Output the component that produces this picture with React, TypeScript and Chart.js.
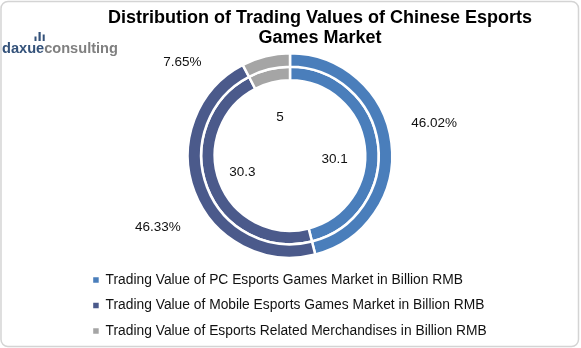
import React, { useEffect, useRef } from "react";
import { Chart, registerables } from "chart.js";

Chart.register(...registerables);

const titleLines = ["Distribution of Trading Values of Chinese Esports", "Games Market"];
const categories = [
  "Trading Value of PC Esports Games Market in Billion RMB",
  "Trading Value of Mobile Esports Games Market in Billion RMB",
  "Trading Value of Esports Related Merchandises in Billion RMB",
];
const values = [30.1, 30.3, 5];
const colors = ["#4A7EBB", "#4B5A8B", "#A5A5A5"];

// label nudges (px) relative to radial anchors
const pctNudge = [[-2, -14], [5.5, 19], [-72.7, 50.3]];
const valNudge = [[0, 9.6], [-5.5, 0.4], [0.7, 5.7]];

const FONT = "'Liberation Sans', Arial, sans-serif";

const decorPlugin = {
  id: "decor",
  beforeDraw(chart: any) {
    const ctx = chart.ctx;
    ctx.save();
    ctx.fillStyle = "#ffffff";
    ctx.fillRect(0, 0, chart.width, chart.height);
    ctx.strokeStyle = "#d4d4d4";
    ctx.lineWidth = 1.5;
    ctx.beginPath();
    (ctx as any).roundRect(1, 1.5, chart.width - 3.5, chart.height - 3, 7);
    ctx.stroke();
    ctx.restore();
  },
  afterDraw(chart: any) {
    const ctx = chart.ctx;
    ctx.save();
    // title
    ctx.fillStyle = "#000000";
    ctx.font = `bold 18px ${FONT}`;
    ctx.textAlign = "center";
    ctx.textBaseline = "alphabetic";
    ctx.fillText(titleLines[0], 320, 22.7);
    ctx.fillText(titleLines[1], 320, 43.3);
    // logo
    ctx.textAlign = "left";
    ctx.font = `bold 14.6px ${FONT}`;
    ctx.fillStyle = "#34527A";
    ctx.fillText("daxue", 2, 53);
    const w = ctx.measureText("daxue").width;
    ctx.fillStyle = "#808080";
    ctx.fillText("consulting", 2 + w, 53);
    ctx.fillStyle = "#34527A";
    ctx.fillRect(34.5, 36.5, 2, 4.5);
    ctx.fillRect(38.5, 32, 2.2, 9);
    ctx.fillRect(42.7, 34.5, 2, 6.5);
    ctx.restore();
  },
  afterDatasetsDraw(chart: any) {
    const ctx = chart.ctx;
    const total = values.reduce((a, b) => a + b, 0);
    ctx.save();
    ctx.fillStyle = "#111111";
    ctx.font = `13.5px ${FONT}`;
    ctx.textAlign = "center";
    ctx.textBaseline = "middle";
    const outer = chart.getDatasetMeta(0).data;
    outer.forEach((arc: any, i: number) => {
      const p = arc.getProps(["x", "y", "startAngle", "endAngle", "outerRadius"], true);
      const mid = (p.startAngle + p.endAngle) / 2;
      const r = p.outerRadius + 45;
      const lx = p.x + Math.cos(mid) * r + pctNudge[i][0];
      const ly = p.y + Math.sin(mid) * r + pctNudge[i][1];
      ctx.fillText(((values[i] / total) * 100).toFixed(2) + "%", lx, ly);
    });
    const inner = chart.getDatasetMeta(1).data;
    inner.forEach((arc: any, i: number) => {
      const p = arc.getProps(["x", "y", "startAngle", "endAngle"], true);
      const mid = (p.startAngle + p.endAngle) / 2;
      const r = 45;
      const lx = p.x + Math.cos(mid) * r + valNudge[i][0];
      const ly = p.y + Math.sin(mid) * r + valNudge[i][1];
      ctx.fillText(String(values[i]), lx, ly);
    });
    ctx.restore();
  },
};

export default function App() {
  const ref = useRef<HTMLCanvasElement | null>(null);
  useEffect(() => {
    if (!ref.current) return;
    const chart = new Chart(ref.current, {
      type: "doughnut",
      data: {
        labels: categories,
        datasets: [
          { data: values, backgroundColor: colors, borderColor: "#ffffff", borderWidth: 2.5 },
          { data: values, backgroundColor: colors, borderColor: "#ffffff", borderWidth: 2.5 },
        ],
      },
      options: {
        responsive: false,
        animation: false,
        radius: 102.25,
        cutout: "73.6%",
        layout: { padding: { top: 49.5, left: 81.5, right: 82.5, bottom: 0 } },
        plugins: {
          tooltip: { enabled: false },
          title: { display: false },
          legend: {
            display: true,
            position: "bottom",
            align: "start",
            labels: {
              boxWidth: 5.5,
              boxHeight: 5.5,
              padding: 11.7,
              color: "#111111",
              font: { size: 13.8, family: FONT },
              generateLabels: (c: any) =>
                categories.map((text, i) => ({
                  text,
                  fillStyle: colors[i],
                  strokeStyle: colors[i],
                  lineWidth: 0,
                  hidden: false,
                  index: i,
                  fontColor: "#111111",
                })),
            },
          },
        },
      } as any,
      plugins: [decorPlugin],
    });
    return () => chart.destroy();
  }, []);
  return (
    <div style={{ position: "absolute", left: 0, top: 0, width: 581, height: 348 }}>
      <canvas ref={ref} width={581} height={348} style={{ display: "block" }} />
    </div>
  );
}
